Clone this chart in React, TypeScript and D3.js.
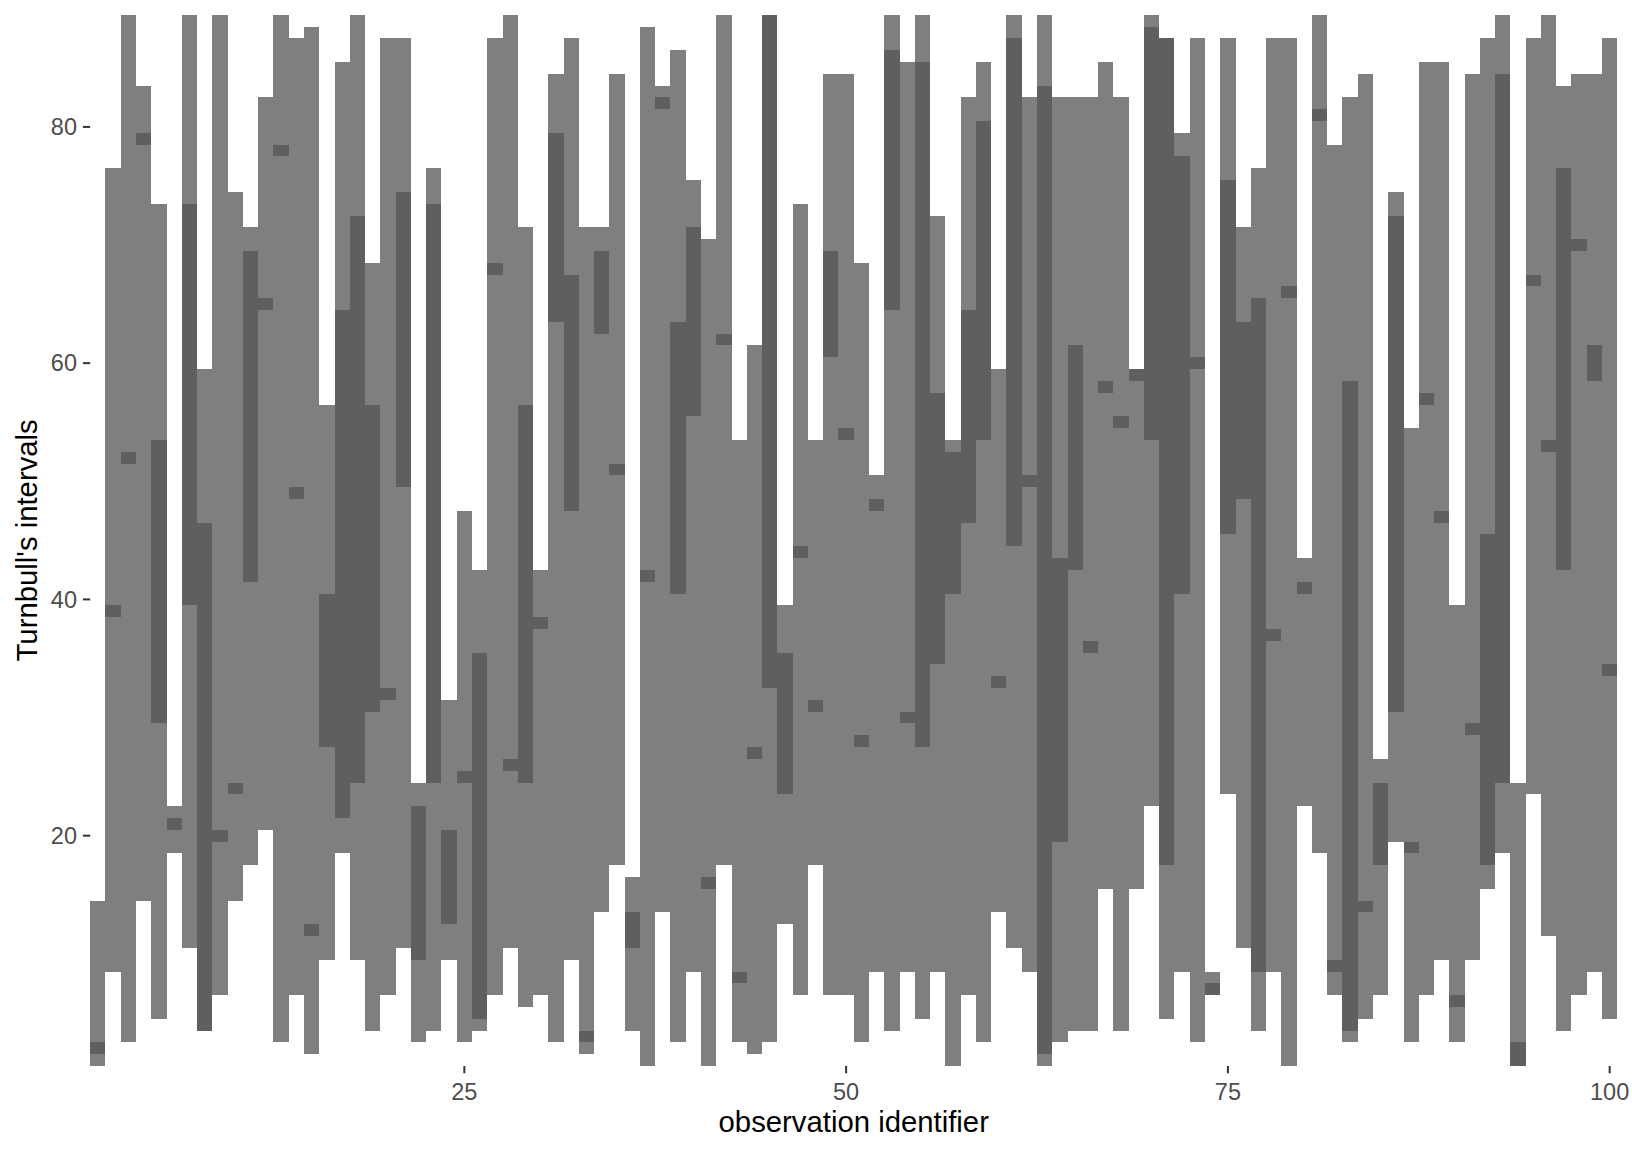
import React from "react";
import * as d3 from "d3";

// observation ids 1..100
const obsId = d3.range(1, 101);

// Turnbull interval bounds (cell index) for each observation
const lowerCell = [
  1, 9, 3, 15, 5, 19, 11, 4, 7, 15, 18, 21, 3, 7, 2, 10, 19, 10, 4, 7,
  11, 3, 4, 10, 3, 4, 7, 11, 6, 7, 3, 10, 2, 14, 18, 4, 1, 14, 3, 9,
  1, 18, 3, 2, 3, 13, 7, 18, 7, 7, 3, 9, 4, 9, 5, 9, 1, 7, 3, 14,
  11, 9, 1, 3, 4, 4, 16, 4, 16, 23, 5, 9, 3, 7, 24, 11, 4, 9, 1, 23,
  19, 7, 3, 5, 7, 20, 3, 7, 10, 3, 10, 16, 19, 1, 24, 12, 4, 7, 9, 5,
];
const upperCell = [
  14, 76, 89, 83, 73, 22, 89, 59, 89, 74, 71, 82, 89, 87, 88, 56, 85, 89, 68, 87,
  87, 24, 76, 31, 47, 42, 87, 89, 71, 42, 84, 87, 71, 71, 84, 16, 88, 83, 86, 75,
  70, 89, 53, 61, 89, 39, 73, 53, 84, 84, 68, 50, 89, 85, 89, 72, 53, 82, 85, 59,
  89, 82, 89, 82, 82, 82, 85, 82, 59, 89, 87, 79, 87, 8, 87, 71, 76, 87, 87, 43,
  89, 78, 82, 84, 26, 74, 54, 85, 85, 39, 84, 87, 89, 24, 87, 89, 83, 84, 84, 87,
];

// cells covered twice (darker band)
const overlapLower = [
  2, 39, 52, 79, 30, 21, 40, 4, 20, 24, 42, 65, 78, 49, 12, 28, 22, 25, 31, 32,
  50, 10, 25, 13, 25, 5, 68, 26, 25, 38, 64, 48, 3, 63, 51, 11, 42, 82, 41, 56,
  16, 62, 8, 27, 33, 24, 44, 31, 61, 54, 28, 48, 65, 30, 28, 35, 41, 47, 54, 33,
  45, 50, 2, 20, 43, 36, 58, 55, 59, 54, 18, 41, 60, 7, 46, 49, 9, 37, 66, 41,
  81, 9, 4, 14, 18, 31, 19, 57, 47, 6, 29, 18, 25, 1, 67, 53, 43, 70, 59, 34,
];
const overlapUpper = [
  2, 39, 52, 79, 53, 21, 73, 46, 20, 24, 69, 65, 78, 49, 12, 40, 64, 72, 56, 32,
  74, 22, 73, 20, 25, 35, 68, 26, 56, 38, 79, 67, 3, 69, 51, 13, 42, 82, 63, 71,
  16, 62, 8, 27, 89, 35, 44, 31, 69, 54, 28, 48, 86, 30, 85, 57, 52, 64, 80, 33,
  87, 50, 83, 43, 61, 36, 58, 55, 59, 88, 87, 77, 60, 7, 75, 63, 65, 37, 66, 41,
  81, 9, 58, 14, 24, 72, 19, 57, 47, 6, 29, 45, 84, 2, 67, 53, 76, 70, 61, 34,
];

const xTicks = [25, 50, 75, 100];
const yTicks = [20, 40, 60, 80];

const W = 1632;
const H = 1152;
const margin = { top: 14.7, right: 14.7, bottom: 86, left: 90.2 };

export default function App() {
  const x = d3
    .scaleLinear()
    .domain([0.5, 100.5])
    .range([margin.left, W - margin.right]);
  const y = d3
    .scaleLinear()
    .domain([0.5, 89.5])
    .range([H - margin.bottom, margin.top]);

  const tickLen = 7.3;
  const font = "'Liberation Sans', Arial, Helvetica, sans-serif";

  return (
    <svg
      width={W}
      height={H}
      style={{ position: "absolute", left: 0, top: 0, background: "#fff" }}
    >
      <g shapeRendering="crispEdges">
        {obsId.map((id, i) => (
          <rect
            key={"l" + id}
            x={x(id - 0.5)}
            width={x(id + 0.5) - x(id - 0.5)}
            y={y(upperCell[i] + 0.5)}
            height={y(lowerCell[i] - 0.5) - y(upperCell[i] + 0.5)}
            fill="#7f7f7f"
          />
        ))}
        {obsId.map((id, i) => (
          <rect
            key={"d" + id}
            x={x(id - 0.5)}
            width={x(id + 0.5) - x(id - 0.5)}
            y={y(overlapUpper[i] + 0.5)}
            height={y(overlapLower[i] - 0.5) - y(overlapUpper[i] + 0.5)}
            fill="#5f5f5f"
          />
        ))}
      </g>

      {/* axes */}
      <g fontFamily={font}>
        {yTicks.map((t) => (
          <g key={"y" + t} transform={`translate(0,${y(t)})`}>
            <line x1={margin.left - tickLen} x2={margin.left} stroke="#333333" strokeWidth={2} />
            <text
              x={margin.left - tickLen - 5.9}
              dy="0.35em"
              textAnchor="end"
              fontSize={23.5}
              fill="#4d4d4d"
            >
              {t}
            </text>
          </g>
        ))}
        {xTicks.map((t) => (
          <g key={"x" + t} transform={`translate(${x(t)},${H - margin.bottom})`}>
            <line y1={0} y2={tickLen} stroke="#333333" strokeWidth={2} />
            <text y={tickLen + 5.9} dy="0.9em" textAnchor="middle" fontSize={23.5} fill="#4d4d4d">
              {t}
            </text>
          </g>
        ))}
        <text
          x={(margin.left + W - margin.right) / 2}
          y={H - 20}
          textAnchor="middle"
          fontSize={29.3}
          fill="#000"
        >
          observation identifier
        </text>
        <text
          transform={`translate(37,${(margin.top + H - margin.bottom) / 2}) rotate(-90)`}
          textAnchor="middle"
          fontSize={29.3}
          fill="#000"
        >
          Turnbull's intervals
        </text>
      </g>
    </svg>
  );
}
